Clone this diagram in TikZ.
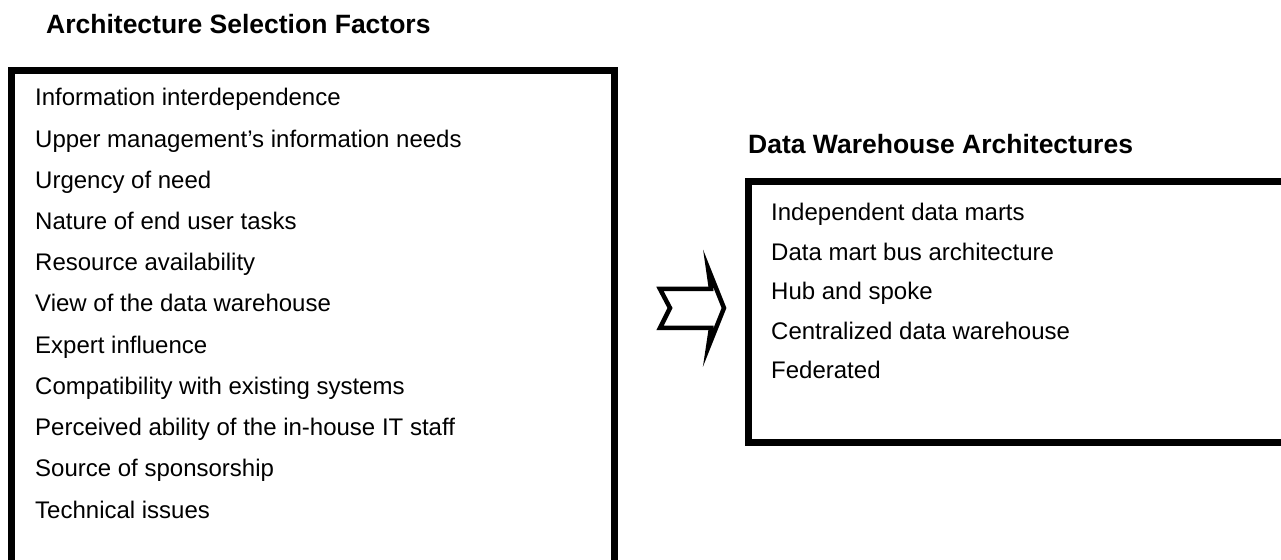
\documentclass[tikz,border=0pt]{standalone}
\usepackage{fontspec}
\setmainfont{Liberation Sans}
\begin{document}
\begin{tikzpicture}[x=1bp,y=-1bp,
  title/.style={anchor=base west,inner sep=0pt,font=\fontsize{26.5bp}{30bp}\selectfont\bfseries},
  item/.style={anchor=base west,inner sep=0pt,font=\fontsize{24bp}{28bp}\selectfont},
  frame/.style={draw=black,line width=7bp,line join=miter},
  arrowshape/.style={draw=black,line width=4.5bp,line join=miter,miter limit=20,fill=white}]
\clip (0,0) rectangle (1281,560);
\fill[white] (0,0) rectangle (1281,560);
% left
\node[title] (t1) at (46,34) {Architecture Selection Factors};
\draw[frame] (11.5,620) -- (11.5,70.5) -- (614.5,70.5) -- (614.5,620);
\foreach \t [count=\i from 0] in {Information interdependence,
  Upper management’s information needs,
  Urgency of need,
  Nature of end user tasks,
  Resource availability,
  View of the data warehouse,
  Expert influence,
  Compatibility with existing systems,
  Perceived ability of the in-house IT staff,
  Source of sponsorship,
  Technical issues}
  \node[item] (l\i) at (35,106+41.2*\i) {\t};
% arrow
\draw[arrowshape] (660,289) -- (711,289) -- (708,268) -- (724,308) -- (708,348) -- (711,328) -- (660,328) -- (670,308) -- cycle;
% right
\node[title] (t2) at (748,154) {Data Warehouse Architectures};
\draw[frame] (1300,181.5) -- (748.5,181.5) -- (748.5,442.5) -- (1300,442.5);
\foreach \t [count=\i from 0] in {Independent data marts,
  Data mart bus architecture,
  Hub and spoke,
  Centralized data warehouse,
  Federated}
  \node[item] (r\i) at (771,221+39.5*\i) {\t};
\end{tikzpicture}
\end{document}
